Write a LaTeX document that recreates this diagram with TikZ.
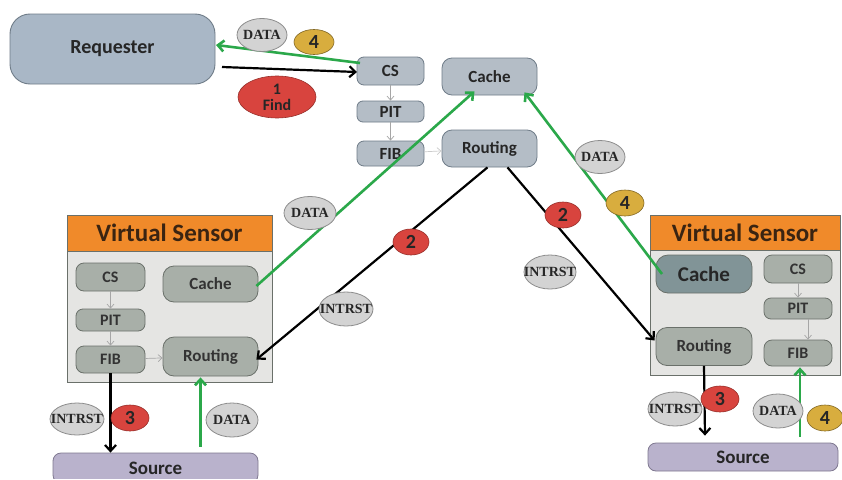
\documentclass[tikz,border=0pt]{standalone}
\usepackage{fontspec}
\setmainfont{Liberation Serif}
\setsansfont{Carlito}
\usetikzlibrary{arrows.meta,shapes.geometric}
\definecolor{reqfill}{HTML}{A9B7C6}
\definecolor{boxfill}{HTML}{B4BDC6}
\definecolor{boxedge}{HTML}{6F7C88}
\definecolor{vsfill}{HTML}{E5E5E3}
\definecolor{vsnode}{HTML}{A8AFA8}
\definecolor{vsedge}{HTML}{6A706A}
\definecolor{darkcache}{HTML}{819497}
\definecolor{orangehd}{HTML}{F08A2A}
\definecolor{titletxt}{HTML}{3A2412}
\definecolor{tagfill}{HTML}{D3D3D3}
\definecolor{tagedge}{HTML}{8C8C8C}
\definecolor{redtag}{HTML}{D8443E}
\definecolor{yeltag}{HTML}{D8AD3E}
\definecolor{grn}{HTML}{2BA84A}
\definecolor{srcfill}{HTML}{B9B2CC}
\definecolor{srcedge}{HTML}{7F7890}
\newcommand{\tagtext}[1]{\makebox[0pt][c]{#1}}
\tikzset{
  rbox/.style={draw=boxedge, fill=boxfill, rounded corners=7pt, line width=0.8pt, inner sep=1pt, font=\sffamily\bfseries\fontsize{17}{17}\selectfont, text=black!85},
  vbox/.style={draw=vsedge, fill=vsnode, rounded corners=8pt, line width=0.8pt, inner sep=1pt, font=\sffamily\bfseries\fontsize{16}{16}\selectfont, text=black!80},
  tag/.style={ellipse, draw=tagedge, fill=tagfill, line width=0.8pt, inner sep=0pt, font=\bfseries\fontsize{14}{14}\selectfont, text=black!85},
  redt/.style={ellipse, draw=redtag!70!black, fill=redtag, line width=0.6pt, inner sep=0pt, font=\sffamily\bfseries\fontsize{20}{20}\selectfont, text=black!85},
  yelt/.style={ellipse, draw=yeltag!60!black, fill=yeltag, line width=0.6pt, inner sep=0pt, font=\sffamily\bfseries\fontsize{20}{20}\selectfont, text=black!85},
  garrow/.style={draw=grn, line width=2.6pt, -{Straight Barb[length=6pt,width=11pt]}},
  barrow/.style={draw=black, line width=2.2pt, -{Straight Barb[length=6pt,width=11pt]}},
  thinarr/.style={draw=gray!70, line width=0.7pt, -{Straight Barb[length=4pt,width=7pt]}},
}
\begin{document}
\begin{tikzpicture}[x=1pt,y=-1pt]
\useasboundingbox (0,0) rectangle (842,479);
\fill[white] (0,0) rectangle (842,479);

% Requester
\node[draw=boxedge, fill=reqfill, rounded corners=20pt, line width=0.9pt, minimum width=205pt, minimum height=70pt, font=\sffamily\bfseries\fontsize{20}{20}\selectfont, text=black!85] (req) at (112.5,49) {Requester};

% top node stack
\node[rbox, minimum width=67pt, minimum height=28pt] (cs) at (390.5,71) {CS};
\node[rbox, minimum width=67pt, minimum height=21pt, rounded corners=6pt] (pit) at (390.5,111.5) {PIT};
\node[rbox, minimum width=67pt, minimum height=25pt] (fib) at (390.5,153.5) {FIB};
\node[rbox, minimum width=95pt, minimum height=37pt, rounded corners=10pt] (cache) at (489.5,76.5) {Cache};
\node[rbox, minimum width=95pt, minimum height=37pt, rounded corners=10pt] (rout) at (489.5,148.5) {Routing};
\draw[thinarr] (cs) -- (pit);
\draw[thinarr] (pit) -- (fib);
\draw[thinarr, draw=gray!40] (fib) -- (rout);

% Left virtual sensor
\node[draw=vsedge, fill=vsfill, line width=0.9pt, minimum width=205pt, minimum height=167pt, inner sep=0pt] (lvs) at (169.5,298.5) {};
\node[draw=vsedge, fill=orangehd, line width=0.9pt, minimum width=205pt, minimum height=36pt, inner sep=0pt, font=\sffamily\bfseries\fontsize{25}{25}\selectfont, text=titletxt] (lvsh) at (169.5,233) {Virtual Sensor};
\node[vbox, minimum width=69pt, minimum height=28pt] (lcs) at (110.5,277) {CS};
\node[vbox, minimum width=69pt, minimum height=22pt, rounded corners=7pt] (lpit) at (110.5,320) {PIT};
\node[vbox, minimum width=69pt, minimum height=27pt] (lfib) at (110.5,359.5) {FIB};
\node[vbox, minimum width=95pt, minimum height=36pt, rounded corners=11pt, font=\sffamily\bfseries\fontsize{17}{17}\selectfont] (lcache) at (210.5,284) {Cache};
\node[vbox, minimum width=95pt, minimum height=39pt, rounded corners=11pt, font=\sffamily\bfseries\fontsize{17}{17}\selectfont] (lrout) at (210.5,356.5) {Routing};
\draw[thinarr] (lcs) -- (lpit);
\draw[thinarr] (lpit) -- (lfib);
\draw[thinarr] (lfib) -- (lrout);

% Right virtual sensor
\node[draw=vsedge, fill=vsfill, line width=0.9pt, minimum width=190pt, minimum height=160pt, inner sep=0pt] (rvs) at (745,295) {};
\node[draw=vsedge, fill=orangehd, line width=0.9pt, minimum width=190pt, minimum height=35pt, inner sep=0pt, font=\sffamily\bfseries\fontsize{25}{25}\selectfont, text=titletxt] (rvsh) at (745,232.5) {Virtual Sensor};
\node[vbox, fill=darkcache, minimum width=96pt, minimum height=38pt, rounded corners=12pt, font=\sffamily\bfseries\fontsize{21}{21}\selectfont, text=black!85] (rcache) at (704,274) {Cache};
\node[vbox, minimum width=68pt, minimum height=28pt] (rcs) at (798,269) {CS};
\node[vbox, minimum width=68pt, minimum height=21pt, rounded corners=7pt] (rpit) at (798,308.5) {PIT};
\node[vbox, minimum width=68pt, minimum height=26pt] (rfib) at (798,353) {FIB};
\node[vbox, minimum width=96pt, minimum height=38pt, rounded corners=11pt, font=\sffamily\bfseries\fontsize{17}{17}\selectfont] (rrout) at (704,346.5) {Routing};
\draw[thinarr] (rcs) -- (rpit);
\draw[thinarr] ([xshift=10pt]rpit.south) -- ([xshift=10pt]rfib.north);

% Sources
\node[draw=srcedge, fill=srcfill, rounded corners=8pt, line width=0.8pt, minimum width=205pt, minimum height=30pt, font=\sffamily\bfseries\fontsize{19}{19}\selectfont, text=black!85] (lsrc) at (155.5,468) {Source};
\node[draw=srcedge, fill=srcfill, rounded corners=8pt, line width=0.8pt, minimum width=190pt, minimum height=28pt, font=\sffamily\bfseries\fontsize{19}{19}\selectfont, text=black!85] (rsrc) at (743,457) {Source};
\fill[white] (0,479) rectangle (842,490);

% coordinates
\coordinate (a1) at (222,67);
\coordinate (csin) at (357,72);
\coordinate (csout) at (360,63);
\coordinate (reqin) at (216,45);
\coordinate (rc1) at (662,274);

% Arrows top
\draw[barrow] (a1) -- (csin);
\draw[garrow] (csout) -- (reqin);
\draw[garrow] (lcache.east) ++(-2,2) coordinate (lc1) -- ([xshift=-15pt,yshift=4pt]cache.south);
\draw[garrow] (rc1) -- ([xshift=35pt,yshift=3pt]cache.south);
\draw[barrow] ([xshift=-2pt]rout.south) -- ([xshift=-2pt,yshift=-3pt]lrout.east);
\draw[barrow] ([xshift=18pt]rout.south) -- ([xshift=-1pt,yshift=6pt]rrout.west);

% Bottom arrows
\draw[barrow] (lfib.south) -- ([xshift=-45pt]lsrc.north);
\draw[garrow] ([xshift=45pt,yshift=6pt]lsrc.north) -- ([xshift=-10pt,yshift=-1pt]lrout.south);
\draw[barrow] (rrout.south) -- ([xshift=-38pt,yshift=7pt]rsrc.north);
\draw[garrow] ([xshift=57pt,yshift=6pt]rsrc.north) -- ([xshift=2pt,yshift=-1pt]rfib.south);

% Tags
\node[tag, minimum width=50pt, minimum height=33pt] (d1) at (262,35) {\tagtext{DATA}};
\node[yelt, minimum width=40pt, minimum height=25pt] (y1) at (314,42) {4};
\node[redt, minimum width=78pt, minimum height=42pt, font=\sffamily\bfseries\fontsize{16}{16}\selectfont, align=center] (f1) at (277,97) {1\\Find};
\node[tag, minimum width=50pt, minimum height=33pt] (d2) at (600,157) {\tagtext{DATA}};
\node[yelt, minimum width=38pt, minimum height=26pt] (y2) at (625,203) {4};
\node[redt, minimum width=36pt, minimum height=26pt] (r2a) at (563,215) {2};
\node[redt, minimum width=36pt, minimum height=26pt] (r2b) at (411,242) {2};
\node[tag, minimum width=52pt, minimum height=33pt] (d3) at (310,213) {\tagtext{DATA}};
\node[tag, minimum width=54pt, minimum height=34pt] (i1) at (346,309) {\tagtext{INTRST}};
\node[tag, minimum width=52pt, minimum height=34pt] (i2) at (550,272) {\tagtext{INTRST}};
\node[tag, minimum width=54pt, minimum height=32pt] (i3) at (77,419) {\tagtext{INTRST}};
\node[redt, minimum width=38pt, minimum height=26pt] (r3a) at (130,418) {3};
\node[tag, minimum width=52pt, minimum height=34pt] (d4) at (232,420) {\tagtext{DATA}};
\node[tag, minimum width=54pt, minimum height=34pt] (i4) at (675,409) {\tagtext{INTRST}};
\node[redt, minimum width=38pt, minimum height=26pt] (r3b) at (720,399) {3};
\node[tag, minimum width=50pt, minimum height=34pt] (d5) at (778,411) {\tagtext{DATA}};
\node[yelt, minimum width=36pt, minimum height=26pt] (y3) at (825,418) {4};
\end{tikzpicture}
\end{document}
